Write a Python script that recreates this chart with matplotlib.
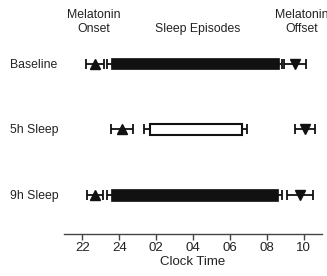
import matplotlib
matplotlib.use("Agg")
import matplotlib.pyplot as plt

plt.rcParams['font.family'] = ['Liberation Sans', 'DejaVu Sans']

conditions = ["Baseline", "5h Sleep", "9h Sleep"]
onset = [22.68, 24.15, 22.68]
onset_sd = [0.51, 0.59, 0.41]
sleep_start = [23.55, 25.64, 23.55]
sleep_start_sd = [0.19, 0.31, 0.22]
sleep_end = [32.64, 30.64, 32.60]
sleep_end_sd = [0.18, 0.27, 0.22]
offset = [33.55, 34.09, 33.82]
offset_sd = [0.59, 0.55, 0.70]
bar_fill = ["#111111", "white", "#111111"]

tick_pos = [22, 24, 26, 28, 30, 32, 34]
tick_labels = ["22", "24", "02", "04", "06", "08", "10"]

W, H = 327, 276
fig = plt.figure(figsize=(W / 100, H / 100), dpi=100)
ax = fig.add_axes([64 / W, 1 - 234 / H, (322 - 64) / W, (234 - 10) / H])

ys = [3, 2, 1]
ebkw = dict(color='#111111', elinewidth=1.3, capsize=3.5, capthick=1.3, linestyle='none')
for i, y in enumerate(ys):
    ax.errorbar(onset[i], y, xerr=onset_sd[i], marker='^', ms=6.5, mfc='#111111', mec='#111111', **ebkw)
    ax.errorbar(offset[i], y, xerr=offset_sd[i], marker='v', ms=6.5, mfc='#111111', mec='#111111', **ebkw)
    ax.errorbar(sleep_start[i], y, xerr=sleep_start_sd[i], zorder=1, **ebkw)
    ax.errorbar(sleep_end[i], y, xerr=sleep_end_sd[i], zorder=1, **ebkw)
    lw = 1.5 if bar_fill[i] == "white" else 0.5
    ax.barh(y, sleep_end[i] - sleep_start[i], left=sleep_start[i], height=0.17,
            color=bar_fill[i], edgecolor='#111111', linewidth=lw, zorder=3)

ax.set_xlim(21, 35)
ax.set_ylim(0.405, 3.82)
ax.set_xticks(tick_pos)
ax.set_xticklabels(tick_labels, fontsize=9.5, color='#222222')
ax.set_yticks([])
for s in ['top', 'right', 'left']:
    ax.spines[s].set_visible(False)
ax.spines['bottom'].set_color('#444444')
ax.spines['bottom'].set_linewidth(1.0)
ax.tick_params(axis='x', length=4, width=1, color='#444444', pad=2)
ax.set_xlabel("Clock Time", fontsize=9.5, labelpad=1, color='#222222')

txt = dict(fontsize=8.8, color='#222222')
for i, y in enumerate(ys):
    ypix = 64 + (3 - y) * 65.5
    fig.text(10 / W, 1 - (ypix + 1) / H, conditions[i], ha='left', va='center', **txt)

fig.text(93.5 / W, 1 - 18 / H, "Melatonin", ha='center', va='baseline', **txt)
fig.text(93.5 / W, 1 - 32 / H, "Onset", ha='center', va='baseline', **txt)
fig.text(198 / W, 1 - 32 / H, "Sleep Episodes", ha='center', va='baseline', **txt)
fig.text(302 / W, 1 - 18 / H, "Melatonin", ha='center', va='baseline', **txt)
fig.text(302 / W, 1 - 32 / H, "Offset", ha='center', va='baseline', **txt)

fig.savefig("out.png", dpi=100)
